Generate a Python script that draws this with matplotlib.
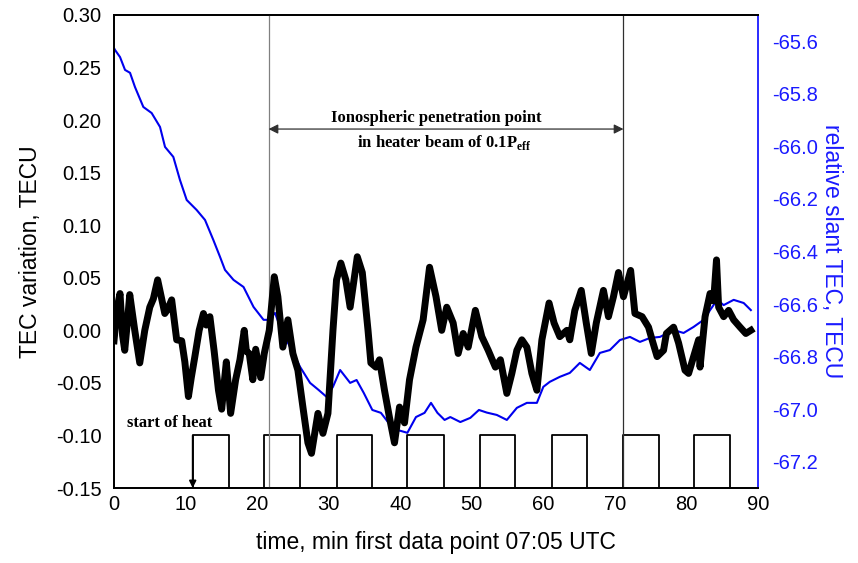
import matplotlib
matplotlib.use("Agg")
import matplotlib.pyplot as plt

# TEC variation (left axis), minutes after 07:05 UTC
tec_t = [0.0, 0.4, 0.84, 1.2, 1.5, 1.9, 2.2, 2.9, 3.6, 4.3, 5.0, 5.5, 6.1, 6.5, 7.1,
         7.5, 8.06, 8.76, 9.46, 9.9, 10.4, 10.8, 11.3, 11.9, 12.5, 12.9, 13.4, 14.0,
         14.6, 15.05, 15.4, 15.7, 16.3, 17.0, 17.6, 18.2, 18.5, 18.9, 19.4, 19.8, 20.5,
         21.0, 21.7, 22.4, 22.9, 23.6, 24.3, 25.0, 25.7, 26.4, 27.1, 27.6, 28.5, 29.2,
         29.9, 30.6, 31.1, 31.7, 32.4, 33.0, 34.0, 34.7, 35.5, 35.9, 36.6, 37.1, 37.8,
         38.5, 39.2, 39.9, 40.6, 41.3, 42.2, 43.2, 44.1, 45.0, 45.8, 46.5, 47.4, 48.1,
         48.8, 49.5, 50.5, 51.4, 52.3, 53.3, 54.0, 54.9, 55.6, 56.3, 57.0, 57.7, 58.4,
         59.1, 59.8, 60.8, 61.5, 62.3, 63.3, 63.7, 64.4, 65.3, 66.0, 66.7, 67.4, 68.4,
         69.1, 69.8, 70.5, 71.2, 72.2, 72.8, 73.8, 74.7, 75.2, 75.9, 76.8, 77.2, 78.2,
         78.9, 79.8, 80.3, 81.0, 81.7, 81.9, 82.6, 83.3, 83.8, 84.2, 84.5, 85.2, 85.9,
         86.6, 87.5, 88.3, 89.0]
tec_var = [-0.010, 0.020, 0.035, -0.005, -0.019, 0.010, 0.034, 0.000, -0.031, 0.000,
           0.022, 0.030, 0.048, 0.035, 0.016, 0.020, 0.029, -0.009, -0.010, -0.030,
           -0.063, -0.045, -0.025, 0.000, 0.016, 0.005, 0.013, -0.020, -0.057, -0.075,
           -0.050, -0.030, -0.079, -0.047, -0.028, 0.000, -0.020, -0.022, -0.047, -0.018,
           -0.045, -0.022, 0.000, 0.051, 0.032, -0.016, 0.010, -0.022, -0.038, -0.073,
           -0.107, -0.117, -0.079, -0.098, -0.079, 0.000, 0.048, 0.064, 0.048, 0.022,
           0.070, 0.055, 0.000, -0.031, -0.035, -0.028, -0.057, -0.083, -0.107, -0.073,
           -0.088, -0.047, -0.016, 0.010, 0.060, 0.032, 0.000, 0.022, 0.007, -0.022,
           -0.003, -0.016, 0.019, -0.006, -0.019, -0.035, -0.028, -0.060, -0.041, -0.019,
           -0.009, -0.016, -0.041, -0.057, -0.009, 0.026, 0.007, -0.006, 0.000, -0.009,
           0.019, 0.038, 0.007, -0.022, 0.007, 0.038, 0.013, 0.032, 0.055, 0.032,
           0.057, 0.016, 0.013, 0.003, -0.009, -0.025, -0.019, -0.003, 0.003, -0.012,
           -0.038, -0.041, -0.025, -0.009, -0.035, 0.013, 0.035, 0.028, 0.067, 0.022,
           0.013, 0.019, 0.010, 0.003, -0.003, 0.000]

# relative slant TEC (right axis)
stec_t = [0.0, 0.14, 0.84, 1.54, 2.24, 2.93, 4.1, 5.26, 6.43, 7.13, 8.29, 9.22, 10.16,
          11.55, 12.72, 13.88, 14.81, 15.51, 16.7, 18.1, 19.5, 20.9, 21.6, 22.5, 23.4,
          24.6, 26.0, 27.4, 28.6, 29.7, 30.6, 31.6, 33.0, 33.9, 34.9, 36.1, 37.3, 38.4,
          39.6, 41.0, 42.2, 43.4, 44.3, 45.2, 46.2, 47.0, 48.4, 49.8, 51.0, 52.1, 53.5,
          54.9, 56.3, 57.7, 59.1, 60.0, 60.9, 62.3, 63.7, 65.1, 66.5, 67.9, 69.3, 70.7,
          72.1, 73.5, 74.9, 76.3, 78.2, 79.6, 81.0, 82.4, 83.3, 84.3, 85.2, 86.6, 88.0,
          89.0]
stec = [-65.626, -65.633, -65.660, -65.709, -65.720, -65.774, -65.850, -65.873, -65.926,
        -66.002, -66.040, -66.128, -66.204, -66.242, -66.280, -66.356, -66.420, -66.470,
        -66.508, -66.535, -66.611, -66.660, -66.660, -66.634, -66.700, -66.763, -66.839,
        -66.900, -66.927, -66.953, -66.915, -66.851, -66.900, -66.889, -66.938, -67.003,
        -67.014, -67.053, -67.079, -67.090, -67.030, -67.014, -66.976, -67.014, -67.041,
        -67.030, -67.049, -67.033, -67.003, -67.013, -67.022, -67.041, -66.995, -66.976,
        -66.976, -66.915, -66.896, -66.877, -66.862, -66.824, -66.851, -66.786, -66.775,
        -66.737, -66.725, -66.744, -66.729, -66.725, -66.699, -66.710, -66.687, -66.660,
        -66.623, -66.584, -66.604, -66.584, -66.596, -66.623]

# heater on / off times, min
heat_on = [11.0, 21.0, 31.1, 41.0, 51.1, 61.2, 71.2, 81.1]
heat_off = [16.1, 26.0, 36.1, 46.1, 56.1, 66.1, 76.1, 86.1]
beam_in, beam_out = 21.6, 71.2

plt.rcParams['font.family'] = ['Liberation Sans', 'DejaVu Sans']
plt.rcParams['mathtext.fontset'] = 'custom'
plt.rcParams['mathtext.rm'] = 'Liberation Serif:bold'
plt.rcParams['mathtext.bf'] = 'Liberation Serif:bold'

fig = plt.figure(figsize=(8.58, 5.63), dpi=100)
ax = fig.add_axes([114/858, 1-488/563, 644/858, 473/563])
ax2 = ax.twinx()

# heater square wave
sq_x, sq_y = [], []
for a, b in zip(heat_on, heat_off):
    sq_x += [a, a, b, b]
    sq_y += [-0.15, -0.10, -0.10, -0.15]
ax.plot(sq_x, sq_y, color='black', lw=1.3)

ax.axvline(beam_in, color='#808080', lw=0.9)
ax.axvline(beam_out, color='#303030', lw=0.9)

ax2.plot(stec_t, stec, color='#0000ee', lw=1.5)
ax.plot(tec_t, tec_var, color='black', lw=5.0)
ax.set_zorder(ax2.get_zorder() + 1)
ax.patch.set_visible(False)

ax.annotate('', xy=(beam_in, 0.1915), xytext=(beam_out, 0.1915),
            arrowprops=dict(arrowstyle='<|-|>', color='#303030', lw=0.9,
                            mutation_scale=14, shrinkA=0, shrinkB=0))
ax.annotate('', xy=(heat_on[0], -0.15), xytext=(heat_on[0], -0.10),
            arrowprops=dict(arrowstyle='-|>', color='black', lw=1.3,
                            mutation_scale=10, shrinkA=0, shrinkB=0))

serif = dict(family='Liberation Serif', weight='bold', fontsize=12)
ax.text(45.0, 0.202, 'Ionospheric penetration point', ha='center', va='center', **serif)
ax.text(46.1, 0.179, r'in heater beam of 0.1P$_\mathrm{eff}$', ha='center', va='center', **serif)
ax.text(1.8, -0.088, 'start of heat', ha='left', va='center', **serif)

ax.set_xlim(0, 90)
ax.set_ylim(-0.15, 0.30)
ax2.set_ylim(-67.30, -65.50)
ax.set_xticks(range(0, 91, 10))
ax.set_yticks([-0.15, -0.10, -0.05, 0.0, 0.05, 0.10, 0.15, 0.20, 0.25, 0.30])
ax.set_yticklabels(['%.2f' % v for v in ax.get_yticks()])
ax2.set_yticks([-67.2, -67.0, -66.8, -66.6, -66.4, -66.2, -66.0, -65.8, -65.6])
ax2.set_yticklabels(['%.1f' % v for v in ax2.get_yticks()])

ax.tick_params(length=0, labelsize=14.5, pad=9)
ax.tick_params(axis='x', pad=5)
ax2.tick_params(length=0, labelsize=14.5, pad=10, colors='#1a1aff')

ax.set_xlabel('time, min first data point 07:05 UTC', fontsize=16.5, labelpad=12)
ax.set_ylabel('TEC variation, TECU', fontsize=16.5, labelpad=10)
ax2.set_ylabel('relative slant TEC, TECU', fontsize=16.5, color='#1a1aff',
               rotation=270, labelpad=18)

for s in ax.spines.values():
    s.set_linewidth(1.3)
for s in ax2.spines.values():
    s.set_linewidth(1.3)
ax2.spines['right'].set_color('#1a1aff')
ax.spines['right'].set_visible(False)

fig.savefig('out.png', dpi=100)
